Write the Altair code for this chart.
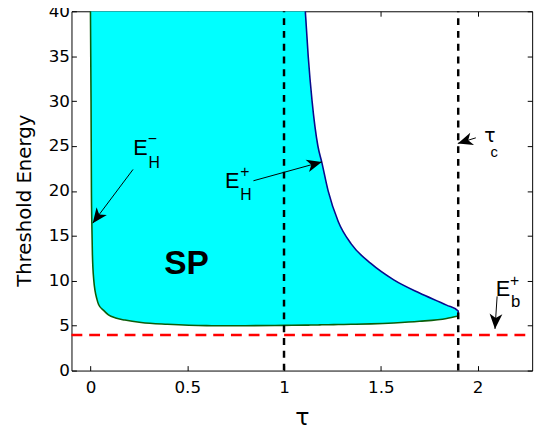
import math
import altair as alt
import pandas as pd

# ---- data ----
tau_grid = [0.0, 0.003, 0.005, 0.007, 0.010, 0.017, 0.034, 0.042, 0.068, 0.093,
            0.13, 0.178, 0.262, 0.398, 0.6, 0.8, 1.0, 1.11, 1.125, 1.145,
            1.175, 1.195, 1.228, 1.28, 1.347, 1.45, 1.567, 1.70, 1.84, 1.90]
# lower boundary of the SP region (E_H^- branch and floor)
e_lower = [40, 30, 20, 16.5, 13.0, 10.1, 7.9, 7.36, 6.7, 6.2,
           5.85, 5.62, 5.35, 5.15, 5.0, 4.99, 5.03, 5.06, 5.06, 5.07,
           5.08, 5.09, 5.1, 5.12, 5.15, 5.2, 5.3, 5.48, 5.8, 6.08]
# upper boundary of the SP region (E_H^+ branch, 40 = top of axes)
e_upper = [40] * 17 + [40, 35, 30, 25, 23.2, 20, 16.6, 14.1, 11.9, 10.1,
                       8.63, 7.28, 6.63]

tau_c_lines = [1.0, 1.9]
eb_level = [3.95]

x_ticks = [0, 0.5, 1, 1.5, 2]
y_ticks = [0, 5, 10, 15, 20, 25, 30, 35, 40]

# annotation arrows: start -> tip (data units)
arrow_name = ["EHm", "EHp", "tauc", "Ebp"]
arrow_x0 = [0.220, 0.842, 1.991, 2.101]
arrow_y0 = [22.39, 21.13, 25.91, 8.26]
arrow_x1 = [0.0117, 1.195, 1.898, 2.090]
arrow_y1 = [16.41, 23.23, 25.29, 4.64]

# ---- layout ----
X_DOM = [-0.098, 2.282]
Y_DOM = [0, 40]
W, H = 468, 365
PX_X = W / (X_DOM[1] - X_DOM[0])
PX_Y = H / (Y_DOM[1] - Y_DOM[0])

xs = alt.Scale(domain=X_DOM, nice=False, zero=False)
ys = alt.Scale(domain=Y_DOM, nice=False, zero=False)

df = pd.DataFrame({"tau": tau_grid, "lower": e_lower, "upper": e_upper})
df_up = df[df["tau"] >= 1.11].copy()
df_up_line = pd.concat(
    [df_up[["tau", "upper"]],
     pd.DataFrame({"tau": [tau_grid[-1]], "upper": [e_lower[-1]]})],
    ignore_index=True)
df_up_line["order"] = range(len(df_up_line))

AX_LABEL = dict(labelFont="DejaVu Sans", labelFontSize=17, labelColor="black",
                tickColor="black", tickWidth=1, tickSize=5, offset=-5,
                domain=False, grid=False)

area = alt.Chart(df).mark_area(color="#00FFFF", interpolate="monotone", clip=True).encode(
    x=alt.X("tau:Q", scale=xs, axis=alt.Axis(
        orient="bottom", values=x_ticks, labelExpr="datum.value", labelPadding=9,
        title="τ", titleFont="DejaVu Sans", titleFontSize=24, titleFontWeight="normal",
        titleColor="black", titlePadding=11, **AX_LABEL)),
    y=alt.Y("lower:Q", scale=ys, axis=alt.Axis(
        orient="left", values=y_ticks, labelPadding=2,
        title="Threshold Energy", titleFont="DejaVu Sans", titleFontSize=20,
        titleFontWeight="normal", titleColor="black", titlePadding=14, titleY=192,
        **AX_LABEL)),
    y2="upper:Q",
)

lower_line = alt.Chart(df).mark_line(color="#0b5e0b", strokeWidth=1.6,
                                     interpolate="monotone", clip=True).encode(
    x=alt.X("tau:Q", scale=xs, axis=alt.Axis(
        orient="top", values=x_ticks, labels=False, title=None, **AX_LABEL)),
    y=alt.Y("lower:Q", scale=ys, axis=alt.Axis(
        orient="right", values=y_ticks, labels=False, title=None, **AX_LABEL)),
)

upper_line = alt.Chart(df_up_line).mark_line(color="#0a0a8c", strokeWidth=1.6,
                                             interpolate="monotone", clip=True).encode(
    x=alt.X("tau:Q", scale=xs, axis=None),
    y=alt.Y("upper:Q", scale=ys, axis=None),
    order="order:Q",
)

vdash = alt.Chart(pd.DataFrame({"t": tau_c_lines, "y0": [0, 0], "y1": [40, 40]})).mark_rule(
    color="black", strokeWidth=2.5, strokeDash=[7, 6]).encode(
    x=alt.X("t:Q", scale=xs, axis=None),
    y=alt.Y("y0:Q", scale=ys, axis=None),
    y2="y1:Q",
)

hdash = alt.Chart(pd.DataFrame({"e": eb_level, "x0": [X_DOM[0]], "x1": [X_DOM[1]]})).mark_rule(
    color="#ff0000", strokeWidth=2.5, strokeDash=[11, 7]).encode(
    y=alt.Y("e:Q", scale=ys, axis=None),
    x=alt.X("x0:Q", scale=xs, axis=None),
    x2="x1:Q",
)

adf = pd.DataFrame({"name": arrow_name, "x0": arrow_x0, "y0": arrow_y0,
                    "x1": arrow_x1, "y1": arrow_y1})
adf["ang"] = [
    math.degrees(math.atan2((b - a) * PX_X, (d - c) * PX_Y)) % 360
    for a, b, c, d in zip(arrow_x0, arrow_x1, arrow_y0, arrow_y1)
]

arrow_lines = alt.Chart(adf).mark_rule(color="black", strokeWidth=1).encode(
    x=alt.X("x0:Q", scale=xs, axis=None), y=alt.Y("y0:Q", scale=ys, axis=None),
    x2="x1:Q", y2="y1:Q",
)
HEAD = "M0,0L0.62,1.45L0,1.05L-0.62,1.45Z"
arrow_heads = alt.Chart(adf).mark_point(shape=HEAD, filled=True, size=440, color="black",
                                        opacity=1, strokeWidth=0).encode(
    x=alt.X("x1:Q", scale=xs, axis=None), y=alt.Y("y1:Q", scale=ys, axis=None),
    angle=alt.Angle("ang:Q", scale=None),
)


def txt(s, x, y, size, dx=0, dy=0, font="Liberation Sans", weight="normal", align="left"):
    return alt.Chart(pd.DataFrame({"x": [x], "y": [y], "t": [s]})).mark_text(
        align=align, baseline="alphabetic", dx=dx, dy=dy, fontSize=size, font=font,
        fontWeight=weight, color="black").encode(
        x=alt.X("x:Q", scale=xs, axis=None), y=alt.Y("y:Q", scale=ys, axis=None),
        text="t:N")


labels = [
    txt("SP", 0.496, 10.76, 34, weight="bold", align="center"),
    # E_H^-
    txt("E", 0.229, 24.02, 22, dx=-1.5),
    txt("\u2212", 0.229, 24.02, 16, dx=13.3, dy=-10.5),
    txt("H", 0.229, 24.02, 16, dx=14, dy=13.3),
    # E_H^+
    txt("E", 0.703, 20.29, 22, dx=-1.5),
    txt("+", 0.703, 20.29, 16, dx=14, dy=-11.7),
    txt("H", 0.703, 20.29, 16, dx=14, dy=12.3),
    # E_b^+
    txt("E", 2.101, 8.26, 22, dx=-1.5),
    txt("+", 2.101, 8.26, 16, dx=13, dy=-10.4),
    txt("b", 2.101, 8.26, 17, dx=14, dy=10.3),
    # tau_c
    txt("τ", 2.034, 25.5, 19, font="DejaVu Sans"),
    txt("c", 2.034, 25.5, 15, dx=6.5, dy=15.5),
]

chart = alt.layer(
    area, lower_line, upper_line, vdash, hdash, arrow_lines, arrow_heads, *labels
).resolve_axis(x="independent", y="independent").properties(
    width=W, height=H,
    padding={"left": 64.5, "top": 0, "right": 10, "bottom": 53},
    autosize=alt.AutoSizeParams(type="none"),
).configure_view(stroke="black", strokeWidth=1)

chart.save("out.html", embed_options={"renderer": "svg", "actions": False})
